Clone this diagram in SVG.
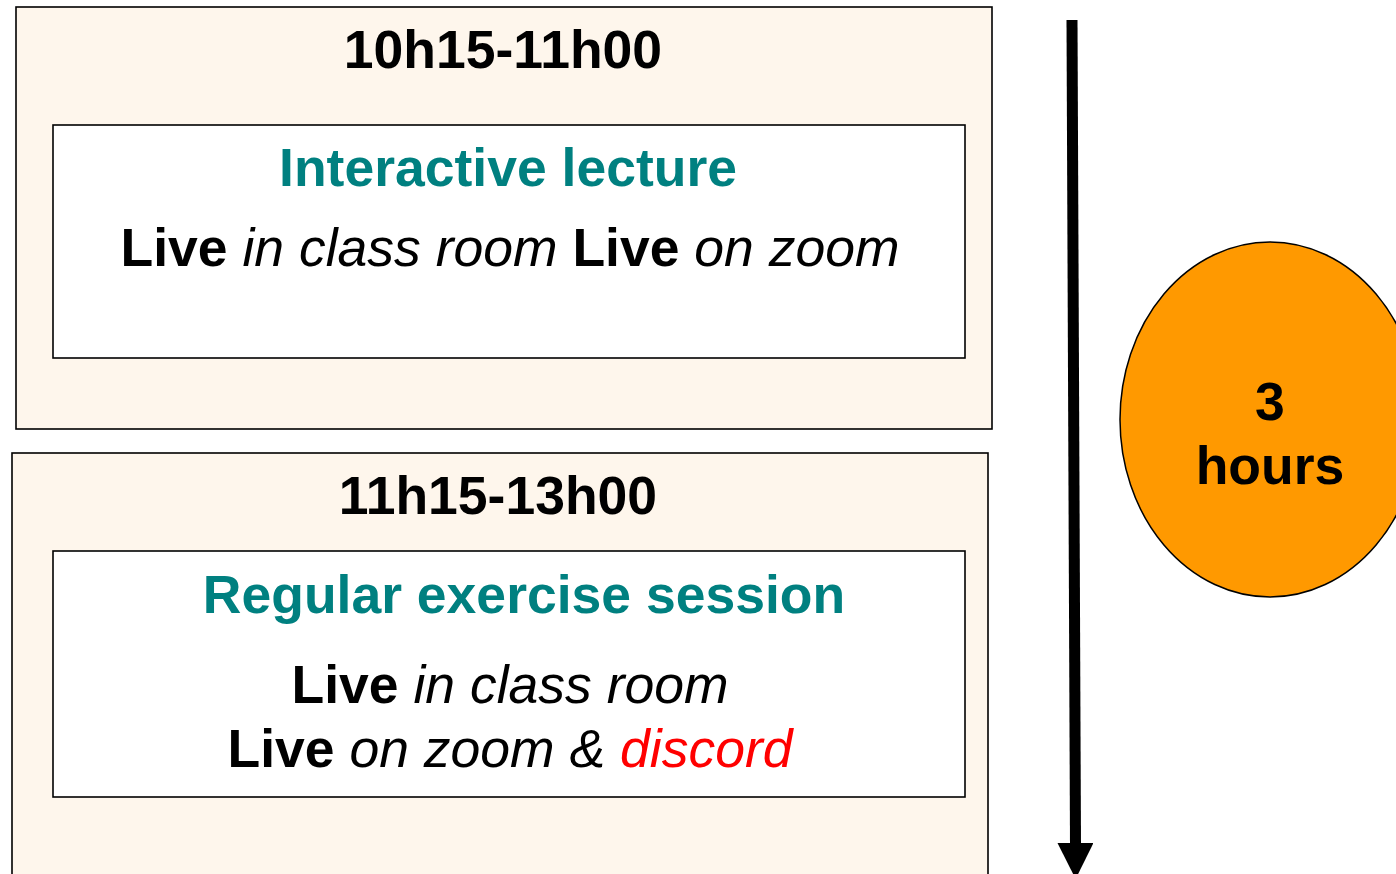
<svg xmlns="http://www.w3.org/2000/svg" width="1396" height="874" viewBox="0 0 1396 874">
<defs>
<style>
.outer{fill:#FEF6EC;stroke:#000;stroke-width:1.6}
.inner{fill:#FFFFFF;stroke:#000;stroke-width:1.6}
text{font-family:"Liberation Sans",Arial,sans-serif;font-size:53.5px;text-anchor:middle;fill:#000}
.b{font-weight:bold}
.i{font-style:italic}
.teal{fill:#008080;font-weight:bold}
.red{fill:#FF0000}
</style>
<marker id="ah" markerUnits="userSpaceOnUse" markerWidth="36" markerHeight="36" refX="2" refY="18" orient="auto" viewBox="0 0 36 36">
<path d="M0,0 L36,18 L0,36 Z" fill="#000"/>
</marker>
</defs>
<rect width="1396" height="874" fill="#FFFFFF"/>
<g id="block1">
<rect class="outer" x="16" y="7" width="976" height="422"/>
<text class="b" x="503" y="68">10h15-11h00</text>
</g>
<g id="lecture">
<rect class="inner" x="53" y="125" width="912" height="233"/>
<text class="teal" x="508" y="186">Interactive lecture</text>
<text x="510" y="266"><tspan class="b">Live</tspan><tspan class="i"> in class room </tspan><tspan class="b">Live</tspan><tspan class="i"> on zoom</tspan></text>
</g>
<g id="block2">
<rect class="outer" x="12" y="453" width="976" height="440"/>
<text class="b" x="498" y="514">11h15-13h00</text>
</g>
<g id="exercise">
<rect class="inner" x="53" y="551" width="912" height="246"/>
<text class="teal" x="524" y="613">Regular exercise session</text>
<text x="510" y="703"><tspan class="b">Live</tspan><tspan class="i"> in class room</tspan></text>
<text x="510" y="767"><tspan class="b">Live</tspan><tspan class="i"> on zoom &amp; </tspan><tspan class="i red">discord</tspan></text>
</g>
<g id="duration">
<ellipse cx="1270" cy="419.5" rx="150" ry="177.5" fill="#FF9900" stroke="#000" stroke-width="1.5"/>
<text class="b" x="1270" y="420">3</text>
<text class="b" x="1270" y="484">hours</text>
</g>
<g id="connectors">
<line x1="1072" y1="20" x2="1075.5" y2="845" stroke="#000" stroke-width="11" marker-end="url(#ah)"/>
</g>
</svg>
